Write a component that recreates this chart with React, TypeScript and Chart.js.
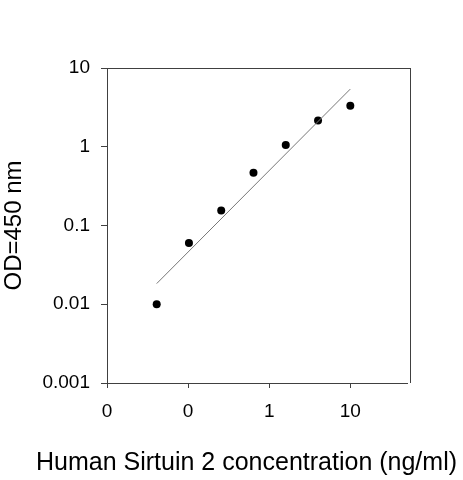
import React, { useEffect, useRef } from "react";
import Chart from "chart.js/auto";

// standard curve, 2.5-fold dilutions
const concentrations = [0.041, 0.1024, 0.256, 0.64, 1.6, 4, 10];
const odValues = [0.01, 0.0598, 0.155, 0.467, 1.05, 2.16, 3.32];

// power-law trend line end points
const fitX = [0.041, 10];
const fitY = [0.0183, 5.4];

const xTicks = [0.01, 0.1, 1, 10];
const xTickLabels = ["0", "0", "1", "10"];
const yTicks = [0.001, 0.01, 0.1, 1, 10];
const yTickLabels = ["0.001", "0.01", "0.1", "1", "10"];

const X_TITLE = "Human Sirtuin 2 concentration (ng/ml)";
const Y_TITLE = "OD=450 nm";

const FONT = "'Liberation Sans', Arial, Helvetica, sans-serif";
const AXIS_COLOR = "#404040";

const framePlugin = {
  id: "frame",
  afterDraw(chart: Chart) {
    const { ctx, chartArea } = chart;
    ctx.save();
    ctx.strokeStyle = AXIS_COLOR;
    ctx.lineWidth = 1;
    ctx.beginPath();
    ctx.moveTo(chartArea.left, chartArea.top + 0.5);
    ctx.lineTo(chartArea.right + 3, chartArea.top + 0.5);
    ctx.moveTo(chartArea.right + 3.5, chartArea.top);
    ctx.lineTo(chartArea.right + 3.5, chartArea.bottom);
    ctx.stroke();

    // x axis title, centred a little left of the plot
    ctx.fillStyle = "#000";
    ctx.font = `25px ${FONT}`;
    ctx.textAlign = "center";
    ctx.textBaseline = "middle";
    ctx.fillText(X_TITLE, chart.width / 2 + 15, 463);
    ctx.restore();
  },
};

const App: React.FC = () => {
  const canvasRef = useRef<HTMLCanvasElement>(null);
  const chartRef = useRef<Chart | null>(null);

  useEffect(() => {
    document.body.style.margin = "0";
    if (!canvasRef.current) return;
    const ctx = canvasRef.current.getContext("2d");
    if (!ctx) return;

    chartRef.current = new Chart(ctx, {
      type: "scatter",
      data: {
        datasets: [
          {
            type: "line",
            label: "fit",
            data: fitX.map((x, i) => ({ x, y: fitY[i] })),
            borderColor: "#777777",
            borderWidth: 1,
            pointRadius: 0,
            fill: false,
          },
          {
            label: "OD",
            data: concentrations.map((x, i) => ({ x, y: odValues[i] })),
            backgroundColor: "#000",
            borderColor: "#000",
            borderWidth: 0,
            pointRadius: 4,
          },
        ],
      },
      options: {
        animation: false,
        responsive: true,
        maintainAspectRatio: false,
        layout: { padding: { left: 0, top: 68, right: 56, bottom: 0 } },
        plugins: {
          legend: { display: false },
          tooltip: { enabled: false },
        },
        scales: {
          x: {
            type: "logarithmic",
            min: 0.01,
            max: 50,
            afterBuildTicks: (scale: any) => {
              scale.ticks = xTicks.map((value) => ({ value }));
            },
            afterFit: (scale: any) => {
              scale.height = 97;
            },
            grid: {
              drawOnChartArea: false,
              drawTicks: true,
              tickLength: 5,
              color: AXIS_COLOR,
            },
            border: { color: AXIS_COLOR },
            ticks: {
              autoSkip: false,
              maxRotation: 0,
              padding: 12,
              color: "#000",
              font: { family: FONT, size: 19 },
              callback: (_v: any, i: number) => xTickLabels[i],
            },
          },
          y: {
            type: "logarithmic",
            min: 0.001,
            max: 10,
            afterBuildTicks: (scale: any) => {
              scale.ticks = yTicks.map((value) => ({ value }));
            },
            afterFit: (scale: any) => {
              scale.width = 107;
            },
            grid: {
              drawOnChartArea: false,
              drawTicks: true,
              tickLength: 6,
              color: AXIS_COLOR,
            },
            border: { color: AXIS_COLOR },
            ticks: {
              autoSkip: false,
              padding: 11,
              color: "#000",
              font: { family: FONT, size: 19 },
              callback: (_v: any, i: number) => yTickLabels[i],
            },
            title: {
              display: true,
              text: Y_TITLE,
              color: "#000",
              padding: { top: 0, bottom: 0 },
              font: { family: FONT, size: 24 },
            },
          },
        },
      },
      plugins: [framePlugin],
    });

    return () => {
      if (chartRef.current) {
        chartRef.current.destroy();
        chartRef.current = null;
      }
    };
  }, []);

  return (
    <div style={{ width: "463px", height: "480px", background: "#fff" }}>
      <canvas ref={canvasRef}></canvas>
    </div>
  );
};

export default App;
